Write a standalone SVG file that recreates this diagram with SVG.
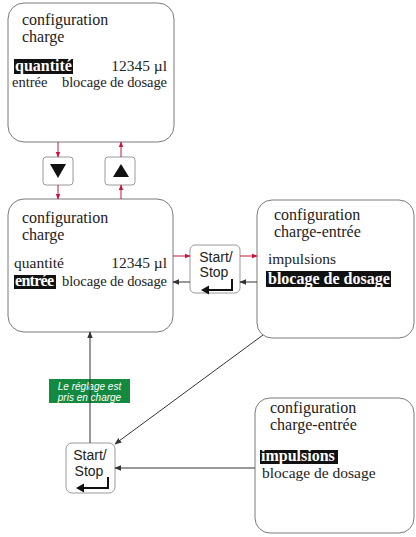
<svg xmlns="http://www.w3.org/2000/svg" width="416" height="537" viewBox="0 0 416 537">
<style>
.box{fill:#fff;stroke:#7a7a7a;stroke-width:1}
.key{fill:#fff;stroke:#9a9a9a;stroke-width:1}
.t{font-family:"Liberation Serif","DejaVu Serif","Times New Roman",serif;font-size:15.5px;fill:#222}
.ts{font-family:"Liberation Serif","DejaVu Serif","Times New Roman",serif;font-size:14.5px;fill:#222}
.tt{font-family:"Liberation Serif","DejaVu Serif","Times New Roman",serif;font-size:16px;fill:#222}
.tb{font-family:"Liberation Serif","DejaVu Serif","Times New Roman",serif;font-size:16px;font-weight:bold;fill:#fff}
.hl{fill:#111}
.k{font-family:"Liberation Sans",Arial,sans-serif;font-size:14px;fill:#222;text-anchor:middle}
.red{stroke:#c8143c;stroke-width:1;fill:none}
.blk{stroke:#333;stroke-width:1;fill:none}
.ret{stroke:#111;stroke-width:2;fill:none}
.lbl{font-family:"Liberation Sans",Arial,sans-serif;font-size:10px;font-style:italic;fill:#fff;text-anchor:middle}
</style>
<defs>
<marker id="ar" viewBox="0 0 10 10" refX="9" refY="5" markerWidth="6" markerHeight="6" markerUnits="userSpaceOnUse" orient="auto"><path d="M0,1 L10,5 L0,9 z" fill="#c8143c"/></marker>
<marker id="ab" viewBox="0 0 10 10" refX="9" refY="5" markerWidth="7" markerHeight="7" markerUnits="userSpaceOnUse" orient="auto"><path d="M0,1 L10,5 L0,9 z" fill="#333"/></marker>
</defs>

<g id="box1">
<rect class="box" x="8" y="3" width="166" height="139" rx="16"/>
<text class="tt" x="22" y="25">configuration</text>
<text class="tt" x="22" y="42">charge</text>
<rect class="hl" x="14" y="59" width="59" height="15"/>
<text class="tb" x="15" y="71">quantité</text>
<text class="t" x="167" y="71" text-anchor="end">12345 µl</text>
<text class="ts" x="12" y="87">entrée</text>
<text class="ts" x="62" y="87" textLength="105">blocage de dosage</text>
</g>

<g id="keyDown">
<rect class="key" x="43" y="157" width="30" height="28" rx="3"/>
<path d="M50,164 L66,164 L58,178 z" fill="#111"/>
</g>
<g id="keyUp">
<rect class="key" x="105" y="157" width="30" height="28" rx="3"/>
<path d="M113,177 L129,177 L121,164 z" fill="#111"/>
</g>

<g id="box2">
<rect class="box" x="8" y="199" width="165" height="133" rx="16"/>
<text class="tt" x="22" y="223">configuration</text>
<text class="tt" x="22" y="240">charge</text>
<text class="t" x="14" y="268">quantité</text>
<text class="t" x="167" y="268" text-anchor="end">12345 µl</text>
<rect class="hl" x="14" y="275" width="42" height="14"/>
<text class="tb" x="15" y="286" textLength="39">entrée</text>
<text class="ts" x="62" y="286" textLength="105">blocage de dosage</text>
</g>

<g id="key1">
<rect class="key" x="190" y="245" width="50" height="48" rx="5"/>
<text class="k" x="216" y="262">Start/</text>
<text class="k" x="214" y="277">Stop</text>
<path class="ret" d="M232,279 L232,290 L207,290"/>
<path d="M201,290 L209,285.5 L209,294.5 z" fill="#111"/>
</g>

<g id="box3">
<rect class="box" x="257" y="200" width="157" height="138" rx="15"/>
<text class="tt" x="274" y="220">configuration</text>
<text class="tt" x="274" y="237">charge-entrée</text>
<text class="t" x="268" y="264">impulsions</text>
<rect class="hl" x="266" y="271" width="125" height="16"/>
<text class="tb" x="268" y="284">blocage de dosage</text>
</g>

<g id="box4">
<rect class="box" x="255" y="398" width="159" height="135" rx="15"/>
<text class="tt" x="270" y="413">configuration</text>
<text class="tt" x="270" y="430">charge-entrée</text>
<rect class="hl" x="260" y="450" width="78" height="14"/>
<text class="tb" x="261" y="461">impulsions</text>
<text class="t" x="262" y="478">blocage de dosage</text>
</g>

<g id="key2">
<rect class="key" x="66" y="443" width="49" height="50" rx="6"/>
<text class="k" x="90" y="460">Start/</text>
<text class="k" x="89" y="476">Stop</text>
<path class="ret" d="M108,477 L108,488 L82,488"/>
<path d="M76,488 L84,483.5 L84,492.5 z" fill="#111"/>
</g>

<g id="label">
<rect x="49" y="379" width="81" height="24" fill="#138a40"/>
<text class="lbl" x="89.5" y="389.5">Le réglage est</text>
<text class="lbl" x="89.5" y="400.5">pris en charge</text>
</g>

<g id="connectors">
<line class="red" x1="58" y1="142" x2="58" y2="157" marker-end="url(#ar)"/>
<line class="red" x1="58" y1="185" x2="58" y2="199" marker-end="url(#ar)"/>
<line class="red" x1="121" y1="199" x2="121" y2="185" marker-end="url(#ar)"/>
<line class="red" x1="121" y1="157" x2="121" y2="142" marker-end="url(#ar)"/>
<line class="red" x1="173" y1="256" x2="190" y2="256" marker-end="url(#ar)"/>
<line class="red" x1="240" y1="256" x2="257" y2="256" marker-end="url(#ar)"/>
<line class="blk" x1="257" y1="282" x2="240" y2="282" marker-end="url(#ab)"/>
<line class="blk" x1="190" y1="282" x2="173" y2="282" marker-end="url(#ab)"/>
<line class="blk" x1="90" y1="443" x2="90" y2="332" marker-end="url(#ab)"/>
<line class="blk" x1="263" y1="335" x2="115" y2="444" marker-end="url(#ab)"/>
<line class="blk" x1="255" y1="468" x2="115" y2="468" marker-end="url(#ab)"/>
</g>
</svg>
